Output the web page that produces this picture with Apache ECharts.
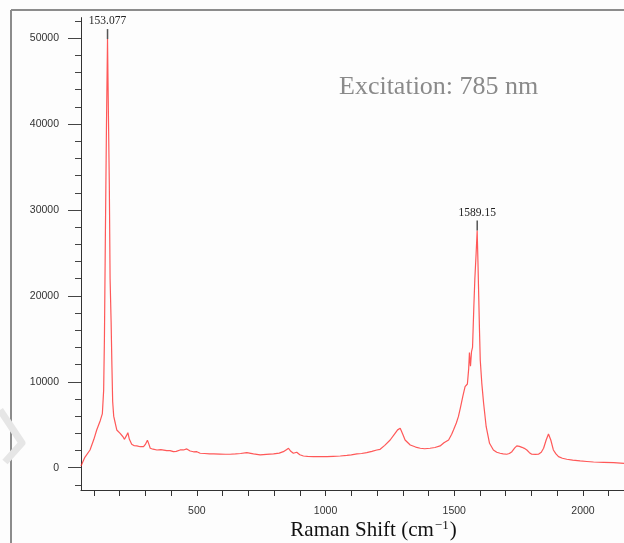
<!DOCTYPE html>
<html>
<head>
<meta charset="utf-8">
<script src="https://cdn.jsdelivr.net/npm/echarts@6/dist/echarts.min.js"></script>
<style>
html,body{margin:0;padding:0;background:#fdfdfd;}
#c{width:624px;height:543px;}
</style>
</head>
<body>
<div id="c"></div>
<script>
// Raman shift (cm-1)
const ramanShift = [50,65,85,100,111,125,133,138,141,145,149,153,157,160,163,167,170,173,177,183,189,195,202,208,213,219,226,232,238,247,257,267,280,293,300,308,313,319,330,345,360,383,396,409,420,435,448,461,474,487,500,513,530,550,565,590,610,629,650,670,694,720,746,770,798,820,836,848,856,865,875,888,900,914,930,953,980,1005,1030,1057,1083,1100,1122,1140,1160,1180,1199,1212,1230,1251,1270,1280,1290,1300,1309,1329,1350,1368,1385,1406,1425,1445,1460,1478,1490,1497,1508,1516,1524,1533,1542,1551,1556,1559,1563,1567,1571,1576,1580,1585,1589,1592,1595,1598,1601,1607,1614,1624,1637,1652,1665,1678,1690,1704,1714,1724,1735,1743,1753,1763,1772,1782,1792,1801,1815,1827,1838,1847,1857,1866,1875,1885,1895,1905,1920,1937,1960,1989,2015,2041,2080,2119,2160,2200];
// Intensity (counts)
const intensity = [200,1200,2060,3300,4390,5500,6300,9000,15000,28000,40000,49900,40000,33000,22000,17000,12000,7700,6000,5200,4390,4190,4000,4000,3600,3300,3700,4070,3300,2720,2550,2530,2440,2440,2700,3200,2800,2260,2150,2060,2100,1980,1980,1860,1900,2060,2060,2180,1940,1850,1860,1680,1650,1600,1600,1580,1560,1560,1600,1650,1750,1600,1480,1550,1600,1700,1860,2100,2260,1900,1680,1790,1500,1360,1320,1280,1290,1280,1320,1360,1440,1500,1600,1650,1750,1900,2060,2140,2600,3220,4000,4400,4590,3900,3220,2640,2400,2260,2200,2260,2350,2530,2900,3220,3900,4390,5200,5940,7000,8260,9430,9740,11500,13400,11800,13500,14000,18700,22000,25000,27600,24000,20000,16000,12500,9820,7500,4770,2840,2060,1800,1680,1600,1560,1650,1860,2300,2530,2480,2370,2250,2060,1750,1560,1550,1560,1800,2260,3220,3920,3220,2060,1600,1280,1100,980,870,780,720,660,620,580,510,500];
// Peak annotations
const peakX = [153.077, 1589.15];
const peakY = [49900, 27600];
const peakLabels = ['153.077', '1589.15'];
// Tick values
const xLabelTicks = [500, 1000, 1500, 2000];
const xMinorTicks = [100,200,300,400,500,600,700,800,900,1000,1100,1200,1300,1400,1500,1600,1700,1800,1900,2000,2100,2200];
const yLabelTicks = [0, 10000, 20000, 30000, 40000, 50000];
const yMinorTicks = [-2000,0,2000,4000,6000,8000,10000,12000,14000,16000,18000,20000,22000,24000,26000,28000,30000,32000,34000,36000,38000,40000,42000,44000,46000,48000,50000,52000];

const chart = echarts.init(document.getElementById('c'), null, {renderer: 'canvas'});
const yMin = -2600, yMax = 52400, xMin = 50, xMax = 2300;
const axisColor = '#333';
const labelFont = {fontFamily: 'Liberation Sans', fontSize: 10.5, color: '#333', formatter: v => String(v)};

chart.setOption({
  backgroundColor: '#fdfdfd',
  animation: false,
  grid: {left: 81, top: 17.6, width: 579.2, height: 472.4, containLabel: false, outerBoundsMode: 'none'},
  xAxis: {
    type: 'value', min: xMin, max: xMax,
    axisLine: {show: true, onZero: false, lineStyle: {color: axisColor, width: 1.2}},
    axisTick: {show: true, customValues: xMinorTicks, length: 6, lineStyle: {color: axisColor}},
    axisLabel: Object.assign({customValues: xLabelTicks, margin: 16}, labelFont),
    splitLine: {show: false}
  },
  yAxis: [{
    type: 'value', min: yMin, max: yMax, position: 'left', offset: 0,
    axisLine: {show: true, onZero: false, lineStyle: {color: axisColor, width: 1}},
    axisTick: {show: true, customValues: yLabelTicks, length: 13, lineStyle: {color: '#444'}},
    axisLabel: Object.assign({customValues: yLabelTicks, margin: 22}, labelFont),
    splitLine: {show: false}
  }, {
    type: 'value', min: yMin, max: yMax, position: 'left', offset: 0,
    axisLine: {show: false},
    axisTick: {show: true, customValues: yMinorTicks, length: 6, lineStyle: {color: '#444'}},
    axisLabel: {show: false},
    splitLine: {show: false}
  }],
  series: [{
    type: 'line',
    data: ramanShift.map((x, i) => [x, intensity[i]]),
    showSymbol: false,
    symbol: 'none',
    lineStyle: {color: '#ff2020', width: 1.2, opacity: 0.75},
    markPoint: {
      symbol: 'rect',
      symbolSize: [1.5, 10],
      symbolOffset: [0, -5],
      itemStyle: {color: '#555'},
      label: {
        show: true, position: 'top', distance: 2,
        fontFamily: 'Liberation Serif', fontSize: 11.5, color: '#222',
        formatter: p => peakLabels[p.dataIndex]
      },
      data: peakX.map((x, i) => ({coord: [x, peakY[i]]}))
    }
  }],
  graphic: [
    {type: 'line', shape: {x1: 11, y1: 10, x2: 624, y2: 10}, style: {stroke: '#8c8c8c', lineWidth: 2}},
    {type: 'line', shape: {x1: 11, y1: 10, x2: 11, y2: 543}, style: {stroke: '#8c8c8c', lineWidth: 2}},
    {type: 'polyline', shape: {points: [[0, 410], [22, 443], [5, 462]]}, style: {stroke: '#e6e6e6', lineWidth: 7, fill: null, lineJoin: 'round'}},
    {type: 'text', left: 339, top: 74, style: {text: 'Excitation: 785 nm', font: '26px "Liberation Serif"', fill: '#8a8a8a'}},
    {type: 'text', x: 373.5, y: 530, style: {
      text: '{a|Raman Shift (cm}{s|−1}{a|)}',
      align: 'center', verticalAlign: 'middle',
      rich: {
        a: {fontFamily: 'Liberation Serif', fontSize: 21, fill: '#111', verticalAlign: 'bottom'},
        s: {fontFamily: 'Liberation Serif', fontSize: 13, fill: '#111', verticalAlign: 'bottom', padding: [0, 1, 8, 1]}
      }
    }}
  ]
});
</script>
</body>
</html>
